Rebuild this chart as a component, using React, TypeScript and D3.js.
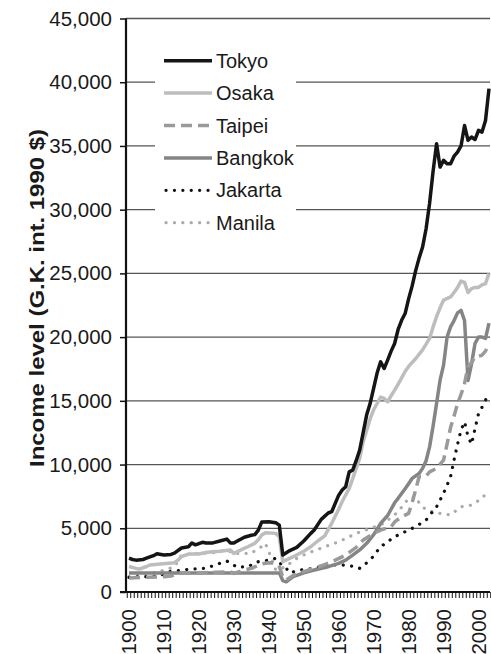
import React, { useEffect, useRef } from "react";
import * as d3 from "d3";

type Pt = [number, number];

// income per capita, G.K. int. 1990 $
const tokyo: Pt[] = [
  [1900, 2650], [1901, 2550], [1902, 2500], [1904, 2550], [1905, 2650], [1907, 2850],
  [1908, 3000], [1910, 2900], [1912, 2950], [1913, 3050], [1915, 3450], [1917, 3550],
  [1918, 3850], [1919, 3700], [1921, 3900], [1922, 3850], [1924, 3850], [1926, 4000],
  [1928, 4150], [1929, 3850], [1930, 3850], [1931, 4000], [1933, 4300], [1935, 4450],
  [1936, 4500], [1937, 4850], [1938, 5500], [1940, 5520], [1942, 5430], [1943, 5250],
  [1944, 2900], [1946, 3250], [1948, 3500], [1950, 4000], [1952, 4600], [1953, 4860],
  [1955, 5700], [1957, 6200], [1958, 6300], [1960, 7600], [1961, 8000], [1962, 8260],
  [1963, 9430], [1964, 9560], [1965, 10300], [1966, 11130], [1967, 12500], [1968, 13900],
  [1969, 14800], [1970, 16000], [1971, 17200], [1972, 18060], [1973, 17540], [1974, 18200],
  [1975, 18900], [1976, 19500], [1977, 20600], [1978, 21320], [1979, 21850], [1980, 23000],
  [1981, 24000], [1982, 25200], [1983, 26200], [1984, 27070], [1985, 28500], [1986, 30500],
  [1987, 33000], [1988, 35180], [1989, 33340], [1990, 33870], [1991, 33600], [1992, 33610],
  [1993, 34200], [1994, 34520], [1995, 35000], [1996, 36610], [1997, 35440], [1998, 35700],
  [1999, 35500], [2000, 36220], [2001, 36090], [2002, 37000], [2003, 39500],
];

const osaka: Pt[] = [
  [1900, 2000], [1902, 1850], [1903, 1800], [1905, 2000], [1906, 2120], [1909, 2200],
  [1913, 2300], [1914, 2500], [1915, 2770], [1917, 2980], [1920, 2980], [1922, 3100],
  [1924, 3160], [1926, 3200], [1929, 3290], [1930, 3030], [1932, 3300], [1934, 3550],
  [1936, 3820], [1937, 4100], [1938, 4470], [1939, 4650], [1942, 4600], [1943, 4340],
  [1944, 2380], [1947, 2770], [1950, 3200], [1952, 3550], [1954, 4000], [1956, 4400],
  [1958, 5400], [1960, 6500], [1961, 7100], [1963, 8130], [1964, 8900], [1965, 9700],
  [1966, 10480], [1967, 11800], [1968, 12700], [1969, 13600], [1970, 14300], [1971, 14790],
  [1972, 15300], [1973, 15190], [1974, 14920], [1975, 15400], [1976, 15840], [1977, 16300],
  [1978, 16800], [1979, 17300], [1980, 17700], [1982, 18300], [1984, 19000], [1986, 19900],
  [1987, 20800], [1988, 21600], [1989, 22300], [1990, 22900], [1992, 23150], [1993, 23500],
  [1994, 23900], [1995, 24400], [1996, 24300], [1997, 23500], [1998, 23800], [1999, 23900],
  [2000, 23900], [2001, 24100], [2002, 24200], [2003, 25000],
];

const taipei: Pt[] = [
  [1900, 1100], [1905, 1150], [1910, 1200], [1912, 1250], [1914, 1450], [1916, 1500],
  [1920, 1500], [1925, 1550], [1929, 1590], [1930, 1460], [1932, 1650], [1935, 1860],
  [1938, 2200], [1940, 2300], [1942, 2250], [1943, 2000], [1944, 1200], [1945, 950],
  [1947, 1300], [1950, 1600], [1953, 1860], [1956, 2150], [1959, 2500], [1962, 2900],
  [1965, 3500], [1967, 4080], [1970, 4600], [1972, 4860], [1975, 5120], [1976, 5500],
  [1978, 5900], [1980, 6170], [1981, 7000], [1982, 8000], [1983, 9040], [1985, 9100],
  [1986, 9430], [1988, 9700], [1990, 10350], [1991, 11600], [1992, 12900], [1993, 13800],
  [1994, 14790], [1995, 15500], [1996, 16360], [1997, 17660], [1998, 18000], [1999, 18450],
  [2000, 18500], [2001, 18580], [2002, 18900], [2003, 19500],
];

const bangkok: Pt[] = [
  [1900, 1500], [1910, 1500], [1920, 1500], [1930, 1500], [1940, 1500], [1943, 1500],
  [1944, 900], [1945, 800], [1947, 1200], [1950, 1500], [1953, 1725], [1957, 1985],
  [1960, 2250], [1962, 2500], [1964, 2900], [1966, 3300], [1968, 3820], [1970, 4500],
  [1972, 5390], [1974, 6000], [1976, 7000], [1977, 7350], [1979, 8100], [1980, 8500],
  [1981, 8910], [1983, 9300], [1984, 9700], [1985, 10300], [1986, 11390], [1987, 13000],
  [1988, 14800], [1989, 16620], [1990, 17800], [1991, 20000], [1992, 20800], [1993, 21300],
  [1994, 21900], [1995, 22100], [1996, 21300], [1997, 16600], [1998, 17900], [1999, 19500],
  [2000, 20000], [2001, 20000], [2002, 19900], [2003, 21100],
];

const jakarta: Pt[] = [
  [1900, 1150], [1903, 1200], [1906, 1200], [1909, 1300], [1911, 1590], [1914, 1670],
  [1917, 1780], [1922, 1860], [1926, 2250], [1928, 2430], [1931, 1940], [1934, 1990],
  [1937, 2380], [1940, 2500], [1942, 2640], [1943, 2300], [1945, 1860], [1946, 1510],
  [1949, 1725], [1953, 1860], [1958, 2120], [1961, 2120], [1965, 1985], [1966, 1860],
  [1969, 2500], [1972, 3550], [1976, 4340], [1979, 4730], [1982, 5120], [1985, 5650],
  [1988, 6690], [1990, 7740], [1992, 9040], [1993, 10350], [1994, 11600], [1995, 12700],
  [1996, 13350], [1997, 12200], [1998, 11600], [1999, 12800], [2000, 14000], [2001, 14500],
  [2002, 15050], [2003, 15600],
];

const manila: Pt[] = [
  [1900, 1200], [1903, 1300], [1906, 1450], [1910, 1700], [1913, 1985], [1915, 2900],
  [1919, 3030], [1924, 3080], [1928, 3290], [1930, 3030], [1935, 3030], [1937, 3450],
  [1938, 3550], [1939, 3820], [1940, 3160], [1942, 1725], [1944, 1900], [1945, 1985],
  [1947, 2500], [1951, 3030], [1956, 3550], [1960, 3940], [1965, 4600], [1969, 4990],
  [1973, 5390], [1977, 6300], [1980, 7350], [1982, 7470], [1983, 7000], [1985, 6430],
  [1989, 6170], [1992, 6040], [1995, 6690], [1998, 6820], [2001, 7350], [2003, 8000],
];

const seriesNames = ["Tokyo", "Osaka", "Taipei", "Bangkok", "Jakarta", "Manila"];
const seriesData = [tokyo, osaka, taipei, bangkok, jakarta, manila];
const yTicks = [0, 5000, 10000, 15000, 20000, 25000, 30000, 35000, 40000, 45000];
const xLabels = [1900, 1910, 1920, 1930, 1940, 1950, 1960, 1970, 1980, 1990, 2000];

const styles: Record<string, { color: string; width: number; dash?: string; cap?: string }> = {
  Tokyo: { color: "#151515", width: 3.5 },
  Osaka: { color: "#bdbdbd", width: 3.5 },
  Taipei: { color: "#9a9a9a", width: 3.5, dash: "11,6" },
  Bangkok: { color: "#858585", width: 3.5 },
  Jakarta: { color: "#111", width: 3.2, dash: "0.1,8.3", cap: "round" },
  Manila: { color: "#ababab", width: 3.2, dash: "0.1,8.3", cap: "round" },
};

const font = "'Liberation Sans', Arial, Helvetica, sans-serif";

export default function App() {
  const ref = useRef<SVGSVGElement>(null);

  useEffect(() => {
    if (!ref.current) return;
    const svg = d3.select(ref.current);
    svg.selectAll("*").remove();

    const left = 126;
    const right = 490;
    const x = d3.scaleLinear().domain([1900, 2003]).range([129, 489]);
    const y = d3.scaleLinear().domain([0, 45000]).range([592, 18.5]);

    // grid lines
    svg
      .append("g")
      .selectAll("line")
      .data(yTicks.filter((d) => d > 0))
      .enter()
      .append("line")
      .attr("x1", left)
      .attr("x2", right)
      .attr("y1", (d) => y(d))
      .attr("y2", (d) => y(d))
      .attr("stroke", "#555")
      .attr("stroke-width", 1.3);

    // legend background hides the grid behind it
    svg
      .append("rect")
      .attr("x", 155)
      .attr("y", 36)
      .attr("width", 141)
      .attr("height", 204)
      .attr("fill", "#fff");

    // y axis
    const yAxis = svg
      .append("g")
      .attr("transform", `translate(${left},0)`)
      .call(
        d3
          .axisLeft(y)
          .tickValues(yTicks)
          .tickSize(6)
          .tickPadding(8)
          .tickFormat(d3.format(","))
      );
    yAxis.select(".domain").remove();
    yAxis.selectAll("line").attr("stroke", "#111").attr("stroke-width", 1.5);
    yAxis
      .selectAll("text")
      .attr("fill", "#1a1a1a")
      .style("font-family", font)
      .style("font-size", "20.5px");
    svg
      .append("line")
      .attr("x1", left)
      .attr("x2", left)
      .attr("y1", y(45000))
      .attr("y2", y(0))
      .attr("stroke", "#111")
      .attr("stroke-width", 2.2);

    // x axis: one minor tick per year
    const years = d3.range(1900, 2005);
    svg
      .append("g")
      .selectAll("line")
      .data(years)
      .enter()
      .append("line")
      .attr("x1", (d) => x(d) - 1.75)
      .attr("x2", (d) => x(d) - 1.75)
      .attr("y1", y(0))
      .attr("y2", y(0) + 6)
      .attr("stroke", "#111")
      .attr("stroke-width", 1);
    svg
      .append("line")
      .attr("x1", 120)
      .attr("x2", right)
      .attr("y1", y(0))
      .attr("y2", y(0))
      .attr("stroke", "#111")
      .attr("stroke-width", 2);

    svg
      .append("g")
      .selectAll("text")
      .data(xLabels)
      .enter()
      .append("text")
      .attr("transform", (d) => `translate(${x(d) + 7},609) rotate(-90)`)
      .attr("text-anchor", "end")
      .attr("fill", "#1a1a1a")
      .style("font-family", font)
      .style("font-size", "20.5px")
      .text((d) => String(d));

    // axis title
    svg
      .append("text")
      .attr("transform", `translate(44,298) rotate(-90)`)
      .attr("text-anchor", "middle")
      .attr("textLength", 338)
      .attr("lengthAdjust", "spacingAndGlyphs")
      .attr("fill", "#1a1a1a")
      .style("font-family", font)
      .style("font-size", "20px")
      .style("font-weight", "bold")
      .text("Income level (G.K. int. 1990 $)");

    // lines
    const line = d3
      .line<Pt>()
      .x((d) => x(d[0]))
      .y((d) => y(d[1]));

    const drawOrder = ["Manila", "Jakarta", "Bangkok", "Taipei", "Osaka", "Tokyo"];
    drawOrder.forEach((name) => {
      const s = styles[name];
      const data = seriesData[seriesNames.indexOf(name)];
      svg
        .append("path")
        .datum(data)
        .attr("fill", "none")
        .attr("stroke", s.color)
        .attr("stroke-width", s.width)
        .attr("stroke-dasharray", s.dash || null)
        .attr("stroke-linecap", s.cap || "butt")
        .attr("stroke-linejoin", "round")
        .attr("d", line);
    });

    // legend
    const legend = svg
      .append("g")
      .selectAll("g")
      .data(seriesNames)
      .enter()
      .append("g")
      .attr("transform", (d, i) => `translate(0,${60.7 + i * 32.4})`);
    legend
      .append("line")
      .attr("x1", (d) => (styles[d].cap ? 166 : 164))
      .attr("x2", 212)
      .attr("y1", 0)
      .attr("y2", 0)
      .attr("stroke", (d) => styles[d].color)
      .attr("stroke-width", (d) => styles[d].width)
      .attr("stroke-dasharray", (d) => styles[d].dash || null)
      .attr("stroke-linecap", (d) => styles[d].cap || "butt");
    legend
      .append("text")
      .attr("x", 216)
      .attr("y", 7)
      .attr("fill", "#1a1a1a")
      .style("font-family", font)
      .style("font-size", "20px")
      .text((d) => d);
  }, []);

  return (
    <svg
      ref={ref}
      width={491}
      height={654}
      style={{ position: "absolute", left: 0, top: 0, background: "#fff" }}
    />
  );
}
